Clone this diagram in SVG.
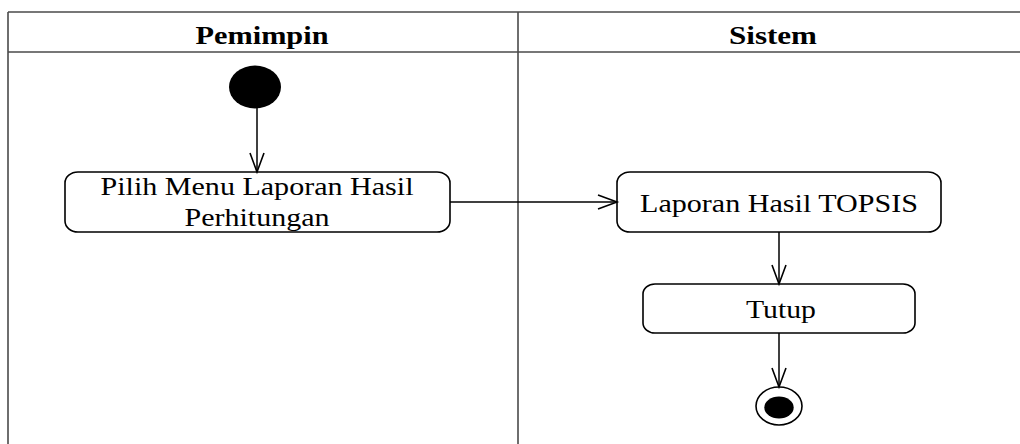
<svg xmlns="http://www.w3.org/2000/svg" width="1020" height="444" viewBox="0 0 1020 444">
<style>
.lane{stroke:#4a4a4a;stroke-width:1.6;fill:none}
.head{font-family:"Times New Roman","Liberation Serif",Tinos,Times,serif;font-weight:bold;font-size:25px;fill:#000;text-anchor:middle}
.act{fill:#fff;stroke:#000;stroke-width:1.6}
.lbl{font-family:"Times New Roman","Liberation Serif",Tinos,Times,serif;font-size:25px;fill:#000;text-anchor:middle}
.conn{stroke:#000;stroke-width:1.5;fill:none;marker-end:url(#arr)}
</style>
<defs>
<marker id="arr" markerUnits="userSpaceOnUse" markerWidth="24" markerHeight="20" refX="20" refY="8" orient="auto">
<path d="M1,1 L20,8 L1,15" fill="none" stroke="#000" stroke-width="1.6"/>
</marker>
</defs>
<g id="swimlanes">
<line class="lane" x1="8" y1="12" x2="1020" y2="12"/>
<line class="lane" x1="8" y1="52" x2="1020" y2="52"/>
<line class="lane" x1="8" y1="12" x2="8" y2="444"/>
<line class="lane" x1="518" y1="12" x2="518" y2="444" stroke="#000"/>
<text class="head" x="262" y="44" textLength="133" lengthAdjust="spacingAndGlyphs">Pemimpin</text>
<text class="head" x="773" y="44" textLength="88" lengthAdjust="spacingAndGlyphs">Sistem</text>
</g>
<g id="start">
<ellipse cx="255" cy="87" rx="26" ry="21.5" fill="#000"/>
</g>
<g id="pilih">
<rect class="act" x="65" y="172" width="385" height="60" rx="13" ry="11"/>
<text class="lbl" x="257" y="195" textLength="313" lengthAdjust="spacingAndGlyphs">Pilih Menu Laporan Hasil</text>
<text class="lbl" x="257" y="226" textLength="145" lengthAdjust="spacingAndGlyphs">Perhitungan</text>
</g>
<g id="laporan">
<rect class="act" x="617" y="172" width="324" height="60" rx="13" ry="11"/>
<text class="lbl" x="779" y="212" textLength="278" lengthAdjust="spacingAndGlyphs">Laporan Hasil TOPSIS</text>
</g>
<g id="tutup">
<rect class="act" x="643" y="284" width="272" height="49" rx="12" ry="10"/>
<text class="lbl" x="781" y="318" textLength="70" lengthAdjust="spacingAndGlyphs">Tutup</text>
</g>
<g id="end">
<ellipse cx="779" cy="406" rx="23" ry="19" fill="#fff" stroke="#000" stroke-width="1.6"/>
<ellipse cx="779" cy="407.5" rx="14.7" ry="11" fill="#000"/>
</g>
<g id="connectors">
<line class="conn" x1="257" y1="108" x2="257" y2="172"/>
<line class="conn" x1="450" y1="202" x2="617" y2="202"/>
<line class="conn" x1="779" y1="232" x2="779" y2="284"/>
<line class="conn" x1="779" y1="333" x2="779" y2="387"/>
</g>
</svg>
